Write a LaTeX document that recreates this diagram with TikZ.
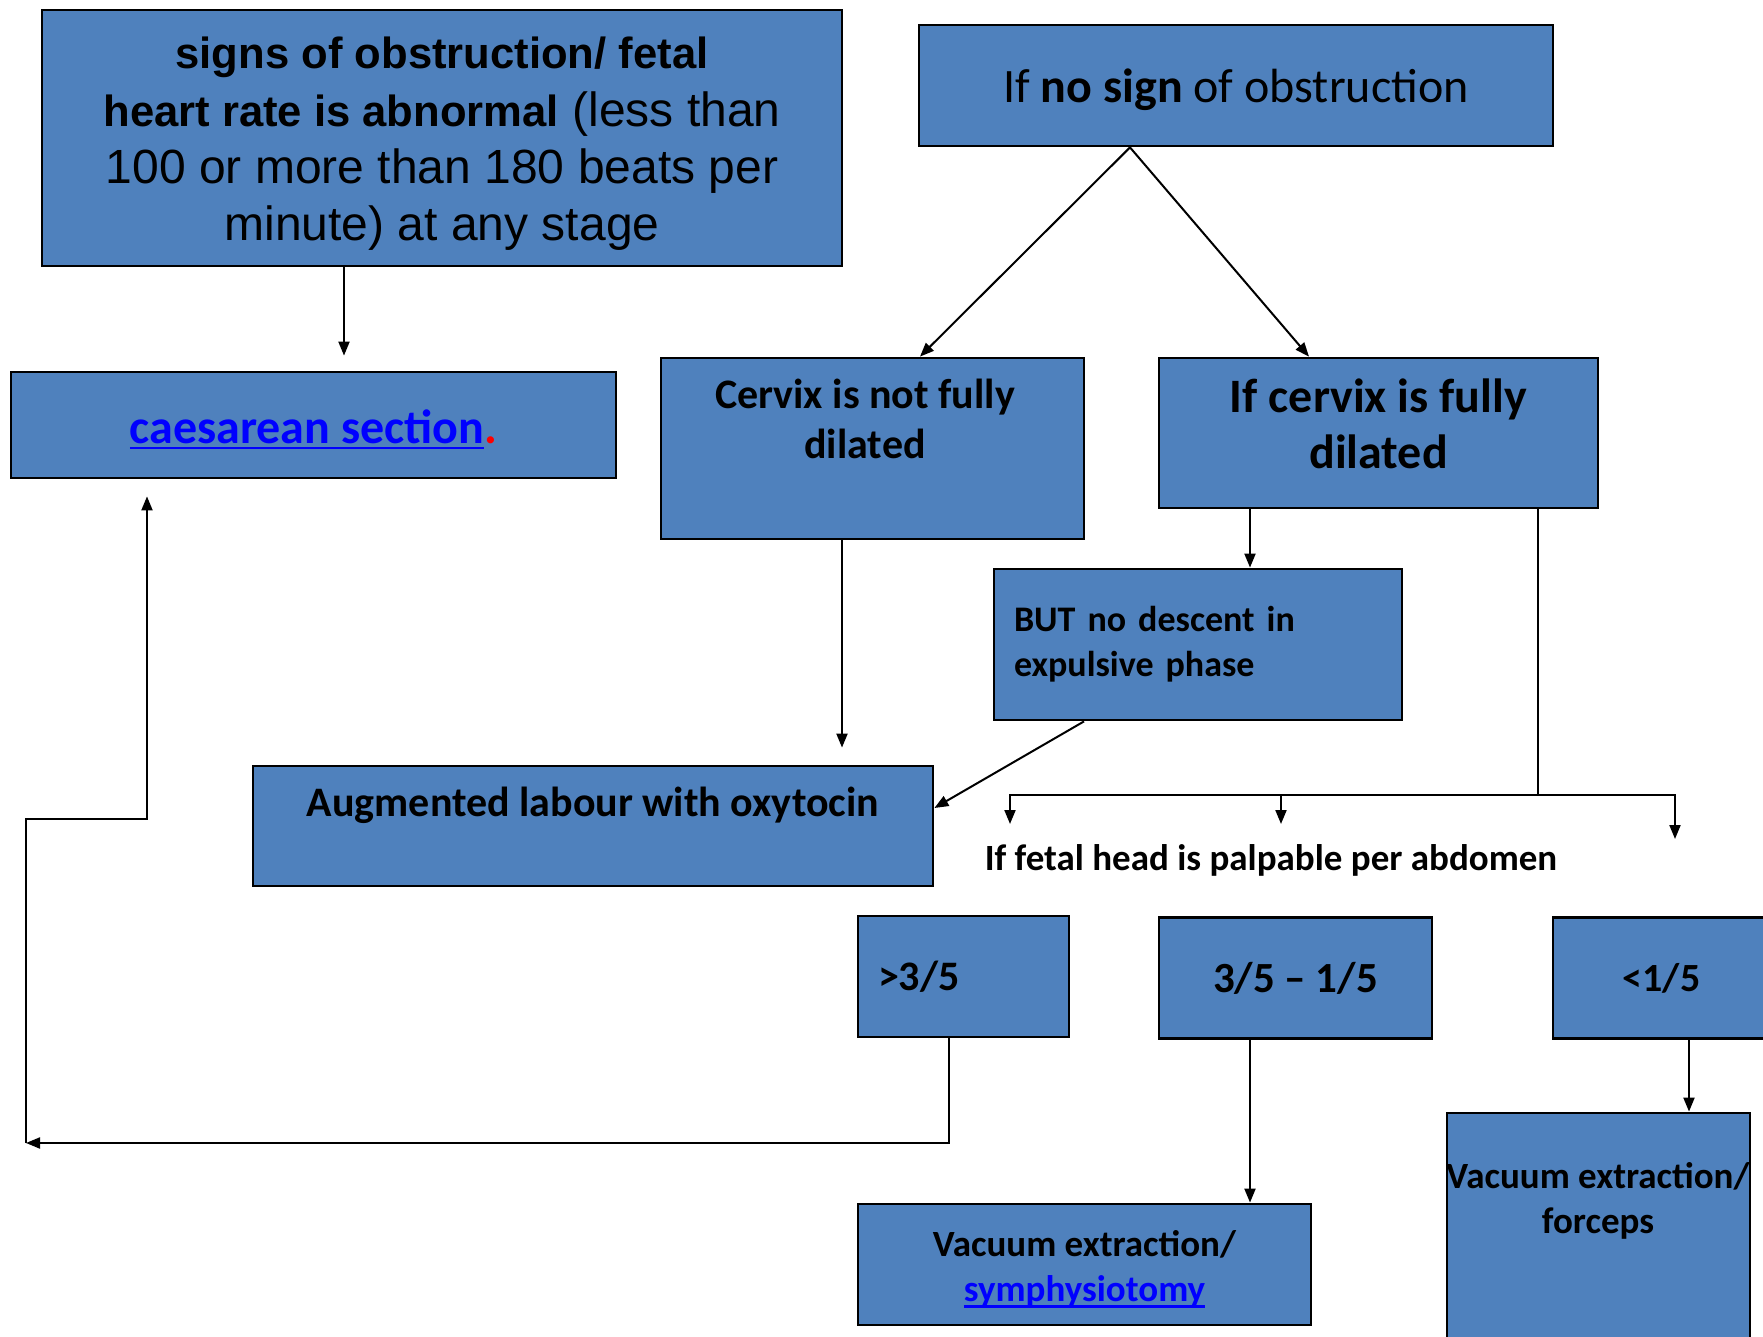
\documentclass[tikz,border=0pt]{standalone}
\usepackage{fontspec}
\setmainfont{Carlito}
\newfontfamily\arialfont{Liberation Sans}
\usetikzlibrary{arrows.meta}

\definecolor{boxblue}{HTML}{4F81BD}
\definecolor{linkblue}{HTML}{0000FF}
\newcommand{\lnk}[1]{{\color{linkblue}\setbox0\hbox{#1}\rlap{\rule[-3pt]{\wd0}{1.2pt}}\box0}}
\newcommand{\hb}[1]{{\fontsize{21.8}{28.7}\selectfont\bfseries #1}}

\begin{document}
\begin{tikzpicture}[x=0.5pt,y=-0.5pt,>={Triangle[length=7pt,width=5.5pt]},
  box/.style={draw=black,line width=1.4pt,fill=boxblue,inner sep=0pt,align=center},
  link/.style={line width=1pt}]
\useasboundingbox (0,0) rectangle (1763,1337);

% boxes
\node[box,minimum width=400pt,minimum height=128pt] (obs) at (442,138) {};
\node[font={\arialfont\fontsize{24}{28.7}\selectfont},align=center] (obstxt) at (442,144)
  {\hb{signs of obstruction/ fetal}\\ \hb{heart rate is abnormal} (less than\\ 100 or more than 180 beats per\\ minute) at any stage};
\node[box,minimum width=317pt,minimum height=60.5pt] (nosign) at (1236,85.5) {};
\node[font={\fontsize{24}{29}\selectfont}] (nosigntxt) at (1236,90) {If \textbf{no sign} of obstruction};
\node[box,minimum width=302.5pt,minimum height=53pt] (cs) at (313.5,425) {};
\node[font={\fontsize{24}{29}\selectfont\bfseries}] (cstxt) at (313.5,429.5) {\lnk{caesarean section}{\color{red}.}};
\node[box,minimum width=211.5pt,minimum height=90.5pt] (nfd) at (872.5,448.5) {};
\node[font={\fontsize{21}{25}\selectfont\bfseries},align=center] (nfdtxt) at (865,419) {Cervix is not fully\\ dilated};
\node[box,minimum width=219.5pt,minimum height=75pt] (fd) at (1378.5,433) {};
\node[font={\fontsize{24}{28}\selectfont\bfseries},align=center] (fdtxt) at (1378.5,424) {If cervix is fully\\ dilated};
\node[box,minimum width=204pt,minimum height=75.5pt,inner xsep=10pt,text width=184pt,align=left,
  font={\fontsize{18}{22.5}\selectfont\bfseries}] (desc) at (1198,644.5) {BUT no descent in\\ expulsive phase};
\node[box,minimum width=340pt,minimum height=60pt] (aug) at (593,826) {};
\node[font={\fontsize{21}{25}\selectfont\bfseries}] (augtxt) at (593,805) {Augmented labour with oxytocin};
\node[font={\fontsize{18.5}{22.5}\selectfont\bfseries}] (head) at (1271,860) {If fetal head is palpable per abdomen};
\node[box,minimum width=105.5pt,minimum height=60.5pt,inner xsep=10pt,text width=85.5pt,align=left,
  font={\fontsize{21}{25}\selectfont\bfseries}] (gt3) at (963.5,976.5) {>3/5};
\node[box,minimum width=136.5pt,minimum height=60.5pt,font={\fontsize{21.5}{25}\selectfont\bfseries}] (mid) at (1295.5,978) {3/5 -- 1/5};
\node[box,minimum width=108.5pt,minimum height=60.5pt,font={\fontsize{20}{25}\selectfont\bfseries}] (lt1) at (1661.5,978) {<1/5};
\node[box,minimum width=226.5pt,minimum height=60.5pt] (sym) at (1084.5,1264.5) {};
\node[font={\fontsize{18.5}{22.5}\selectfont\bfseries},align=center] (symtxt) at (1084.5,1269) {Vacuum extraction/\\ \lnk{symphysiotomy}};
\node[box,minimum width=151.5pt,minimum height=118.5pt] (forc) at (1598.5,1231.5) {};
\node[font={\fontsize{18.5}{22.5}\selectfont\bfseries},align=center] (forctxt) at (1598,1201) {Vacuum extraction/\\ forceps};

% connectors
\coordinate (fork) at (1538,795);
\coordinate (tipA) at (1010,824);
\coordinate (tipB) at (1281,824);
\coordinate (tipC) at (1675,839);
\coordinate (back) at (26,1143);
\coordinate (bend) at (147,819);

\draw[link,->,shorten >=7.5pt] (obs.south -| 344,0) -- (cs.north -| 344,0);
\draw[link,->] (nosign.south -| 1130,0) -- (nfd.north -| 920,0);
\draw[link,->] (nosign.south -| 1130,0) -- (fd.north -| 1309,0);
\draw[link,->] (fd.south -| 1250,0) -- (desc.north -| 1250,0);
\draw[link,->,shorten >=8.5pt] (nfd.south -| 842,0) -- (aug.north -| 842,0);
\draw[link,->] (desc.south -| 1084,0) -- (aug.east |- 0,808);
\draw[link] (fd.south -| fork) -- (fork);
\draw[link,->] (fork) -| (tipA);
\draw[link,->] (fork) -| (tipC);
\draw[link,->] (tipB |- fork) -- (tipB);
\draw[link,->] (gt3.south -| 949,0) |- (back);
\draw[link,->,shorten >=8.5pt] (back) |- (bend) -- (cs.south -| bend);
\draw[link,->] (mid.south -| 1250,0) -- (sym.north -| 1250,0);
\draw[link,->] (lt1.south -| 1689,0) -- (forc.north -| 1689,0);

\end{tikzpicture}
\end{document}
